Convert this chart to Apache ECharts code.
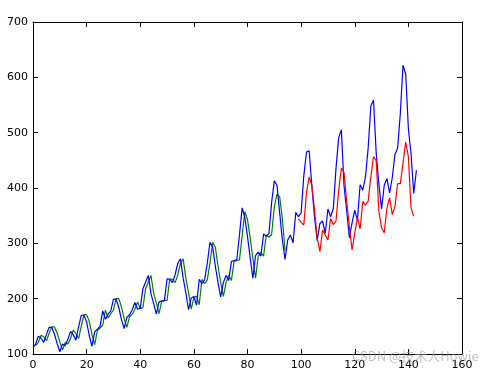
<!DOCTYPE html>
<html>
<head>
<meta charset="utf-8">
<script src="https://cdn.jsdelivr.net/npm/echarts@6/dist/echarts.min.js"></script>
<style>html,body{margin:0;padding:0;background:#fff}#c{width:480px;height:375px}</style>
</head>
<body>
<div id="c"></div>
<script>
// Actual monthly values (blue)
const actual = [
112,118,132,129,121,135,148,148,136,119,104,118,
115,126,141,135,125,149,170,170,158,133,114,140,
145,150,178,163,172,178,199,199,184,162,146,166,
171,180,193,181,183,218,230,242,209,191,172,194,
196,196,236,235,229,243,264,272,237,211,180,201,
204,188,235,227,234,264,302,293,259,229,203,229,
242,233,267,269,270,315,364,347,312,274,237,278,
284,277,317,313,318,374,413,405,355,306,271,306,
315,301,356,348,355,422,465,467,404,347,305,336,
340,318,362,348,363,435,491,505,404,359,310,337,
360,342,406,396,420,472,548,559,463,407,362,405,
417,391,419,461,472,535,622,606,508,461,390,432
];
// Train predictions (green), starting at index 1
const trainStart = 1;
const trainPred = [
115,121,134,131,124,137,149,149,138,122,107,121,
118,128,143,137,128,150,171,171,159,135,117,142,
147,152,179,165,173,179,200,200,185,164,148,167,
172,181,194,182,184,218,230,242,210,192,173,195,
197,197,236,235,229,243,264,272,237,212,181,202,
205,189,235,227,234,264,302,293,259,229,204,229,
242,233,267,269,270,313,357,343,310,273,237,277,
283,277,315,311,316,366,389,384,345,287
];
// Test predictions (red), starting at index 99
const testStart = 99;
const testPred = [
344,338,333,392,420,405,360,310,285,
324,315,306,345,334,340,395,436,428,375,330,288,
318,347,326,376,369,376,420,457,449,358,328,319,
364,382,352,367,408,408,445,483,457,364,349
];
const xTicks = {min:0, max:160, interval:20};
const yTicks = {min:100, max:700, interval:100};

const toPairs = (arr, start) => arr.map((v,i)=>[start+i, v]);

const chart = echarts.init(document.getElementById('c'), null, {renderer:'canvas'});
const axisLineStyle = {color:'#000', width:1};
const labelStyle = {color:'#000', fontSize:11, fontFamily:'DejaVu Sans'};
chart.setOption({
  animation:false,
  backgroundColor:'#fff',
  grid:{left:33, top:22, right:18, bottom:21, containLabel:false},
  xAxis:[
    {type:'value', min:xTicks.min, max:xTicks.max, interval:xTicks.interval, position:'bottom',
     axisLine:{show:true, onZero:false, lineStyle:axisLineStyle},
     axisTick:{show:true, inside:true, length:5, lineStyle:axisLineStyle},
     axisLabel:{...labelStyle, margin:6}, splitLine:{show:false}},
    {type:'value', min:xTicks.min, max:xTicks.max, interval:xTicks.interval, position:'top',
     axisLine:{show:true, onZero:false, lineStyle:axisLineStyle},
     axisTick:{show:true, inside:true, length:5, lineStyle:axisLineStyle},
     axisLabel:{show:false}, splitLine:{show:false}}
  ],
  yAxis:[
    {type:'value', min:yTicks.min, max:yTicks.max, interval:yTicks.interval, position:'left',
     axisLine:{show:true, onZero:false, lineStyle:axisLineStyle},
     axisTick:{show:true, inside:true, length:5, lineStyle:axisLineStyle},
     axisLabel:{...labelStyle, margin:5}, splitLine:{show:false}},
    {type:'value', min:yTicks.min, max:yTicks.max, interval:yTicks.interval, position:'right',
     axisLine:{show:true, onZero:false, lineStyle:axisLineStyle},
     axisTick:{show:true, inside:true, length:5, lineStyle:axisLineStyle},
     axisLabel:{show:false}, splitLine:{show:false}}
  ],
  series:[
    {type:'line', data:toPairs(actual,0), showSymbol:false, lineStyle:{color:'#0000ff', width:1.2}, itemStyle:{color:'#0000ff'}, z:3},
    {type:'line', data:toPairs(trainPred,trainStart), showSymbol:false, lineStyle:{color:'#008000', width:1.2}, itemStyle:{color:'#008000'}, z:2},
    {type:'line', data:toPairs(testPred,testStart), showSymbol:false, lineStyle:{color:'#ff0000', width:1.2}, itemStyle:{color:'#ff0000'}, z:4}
  ],
  graphic:[
    {type:'text', left:352, top:350, z:100,
     style:{text:'CSDN @技术人Howie', fill:'rgba(150,150,150,0.6)', fontSize:13, fontFamily:'Noto Sans CJK SC'}}
  ]
});
</script>
</body>
</html>
